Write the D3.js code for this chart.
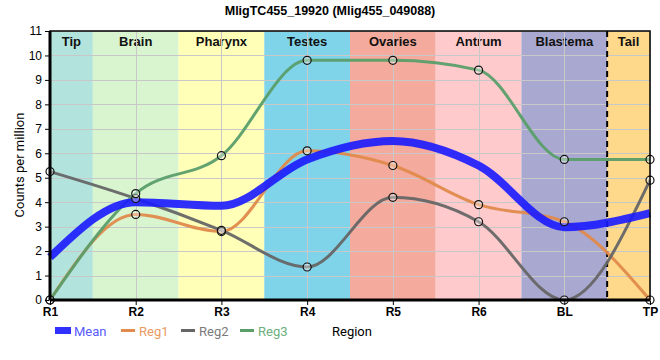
<!DOCTYPE html>
<html>
<head>
<meta charset="utf-8">
<script src="https://cdn.jsdelivr.net/npm/d3@7/dist/d3.min.js"></script>
<style>
  body { margin: 0; background: #fff; }
  svg { display: block; font-family: "Liberation Sans", Arial, sans-serif; }
</style>
</head>
<body>
<svg id="chart" width="660" height="360"></svg>
<script>
const title = "MligTC455_19920 (Mlig455_049088)";
const categories = ["R1", "R2", "R3", "R4", "R5", "R6", "BL", "TP"];
const bandNames = ["Tip", "Brain", "Pharynx", "Testes", "Ovaries", "Antrum", "Blastema", "Tail"];
const bandColors = ["#b3e3dd", "#d8f5d0", "#ffffb8", "#7fd4ea", "#f4aa9c", "#fecacb", "#a8a8d0", "#fed98b"];
const reg1 = [0, 3.5, 2.8, 6.1, 5.5, 3.9, 3.2, 0];
const reg2 = [5.25, 4.15, 2.85, 1.35, 4.2, 3.2, 0, 4.9];
const reg3 = [0, 4.35, 5.9, 9.8, 9.8, 9.4, 5.75, 5.75];
const meanVals = [1.75, 4.0, 3.85, 5.75, 6.5, 5.5, 2.98, 3.55];
const yTicks = [0, 1, 2, 3, 4, 5, 6, 7, 8, 9, 10, 11];

const svg = d3.select("#chart");
const L = 50, R = 650, T = 31, B = 300;

const x = d3.scalePoint().domain(categories).range([L, R]);
const y = d3.scaleLinear().domain([0, 11]).range([B, T]);
const step = x.step();

// bands
const bands = svg.append("g");
categories.forEach((c, i) => {
  const x0 = Math.max(L, x(c) - step / 2), x1 = Math.min(R, x(c) + step / 2);
  bands.append("rect").attr("x", x0).attr("y", T).attr("width", x1 - x0).attr("height", B - T)
    .attr("fill", bandColors[i]);
  bands.append("text").attr("x", (x0 + x1) / 2).attr("y", 46).attr("text-anchor", "middle")
    .attr("font-weight", "bold").attr("font-size", 13).attr("fill", "#111").text(bandNames[i]);
});

// grid
const grid = svg.append("g").attr("stroke", "#c8c8c8").attr("stroke-width", 1);
yTicks.forEach(t => grid.append("line").attr("x1", L).attr("x2", R).attr("y1", Math.round(y(t)) + 0.5).attr("y2", Math.round(y(t)) + 0.5));
categories.forEach(c => grid.append("line").attr("x1", Math.round(x(c)) + 0.5).attr("x2", Math.round(x(c)) + 0.5).attr("y1", T).attr("y2", B));

// dashed separator between BL and TP
const xs = (x("BL") + x("TP")) / 2;
svg.append("line").attr("x1", xs).attr("x2", xs).attr("y1", T).attr("y2", B)
  .attr("stroke", "#000").attr("stroke-width", 2).attr("stroke-dasharray", "6,4");

// lines
const line = d3.line().x((d, i) => x(categories[i])).y(d => y(d)).curve(d3.curveMonotoneX);
const series = [
  { name: "Reg1", vals: reg1, color: "#e08a4c" },
  { name: "Reg2", vals: reg2, color: "#666666" },
  { name: "Reg3", vals: reg3, color: "#5a9e6a" }
];
series.forEach(s => {
  svg.append("path").attr("d", line(s.vals)).attr("fill", "none").attr("stroke", s.color)
    .attr("stroke-width", 3).attr("stroke-opacity", 0.95);
});
svg.append("path").attr("d", line(meanVals)).attr("fill", "none").attr("stroke", "#1a1aff")
  .attr("stroke-width", 8).attr("stroke-opacity", 0.9);

// markers
series.forEach(s => {
  svg.append("g").selectAll("circle").data(s.vals).join("circle")
    .attr("cx", (d, i) => x(categories[i])).attr("cy", d => y(d)).attr("r", 4)
    .attr("fill", "rgba(255,255,255,0.35)").attr("stroke", "#111").attr("stroke-width", 1.2);
});

// frame
svg.append("rect").attr("x", L).attr("y", T).attr("width", R - L).attr("height", B - T)
  .attr("fill", "none").attr("stroke", "#000").attr("stroke-width", 1.5);
svg.append("line").attr("x1", L).attr("x2", L).attr("y1", T).attr("y2", B).attr("stroke", "#000").attr("stroke-width", 3);
svg.append("line").attr("x1", L).attr("x2", R).attr("y1", B).attr("y2", B).attr("stroke", "#000").attr("stroke-width", 3);

// axes
const yAxis = svg.append("g").attr("transform", `translate(${L - 1},0)`)
  .call(d3.axisLeft(y).tickValues(yTicks).tickSize(4).tickPadding(3).tickFormat(d3.format("d")));
yAxis.select(".domain").remove();
yAxis.selectAll("text").attr("font-size", 12).attr("fill", "#000").attr("font-family", "Liberation Sans, Arial, sans-serif");

const xAxis = svg.append("g").attr("transform", `translate(0,${B + 1})`)
  .call(d3.axisBottom(x).tickSize(4).tickPadding(2));
xAxis.select(".domain").remove();
xAxis.selectAll("text").attr("font-size", 12).attr("font-weight", "bold").attr("fill", "#000").attr("font-family", "Liberation Sans, Arial, sans-serif");

// title
svg.append("text").attr("x", 330).attr("y", 15).attr("text-anchor", "middle").attr("font-weight", "bold")
  .attr("font-size", 12.5).text(title);

// y title
svg.append("text").attr("transform", "translate(24,165) rotate(-90)").attr("text-anchor", "middle")
  .attr("font-size", 13).attr("font-family", "Roboto, sans-serif").text("Counts per million");

// legend
const lg = svg.append("g").attr("font-family", "Roboto, sans-serif").attr("font-size", 13);
lg.append("rect").attr("x", 55).attr("y", 327).attr("width", 16).attr("height", 7).attr("fill", "#1a1aff").attr("opacity", 0.9);
lg.append("text").attr("x", 74).attr("y", 335.5).attr("fill", "#5a5aff").text("Mean");
const legX = [121, 181, 240];
const legText = ["#e89a62", "#7a7a7a", "#6db07c"];
series.forEach((s, i) => {
  lg.append("line").attr("x1", legX[i]).attr("x2", legX[i] + 14).attr("y1", 330.5).attr("y2", 330.5)
    .attr("stroke", s.color).attr("stroke-width", 3);
  lg.append("text").attr("x", legX[i] + 18).attr("y", 335.5).attr("fill", legText[i]).text(s.name);
});
lg.append("text").attr("x", 332).attr("y", 336).attr("fill", "#000").text("Region");
</script>
</body>
</html>
